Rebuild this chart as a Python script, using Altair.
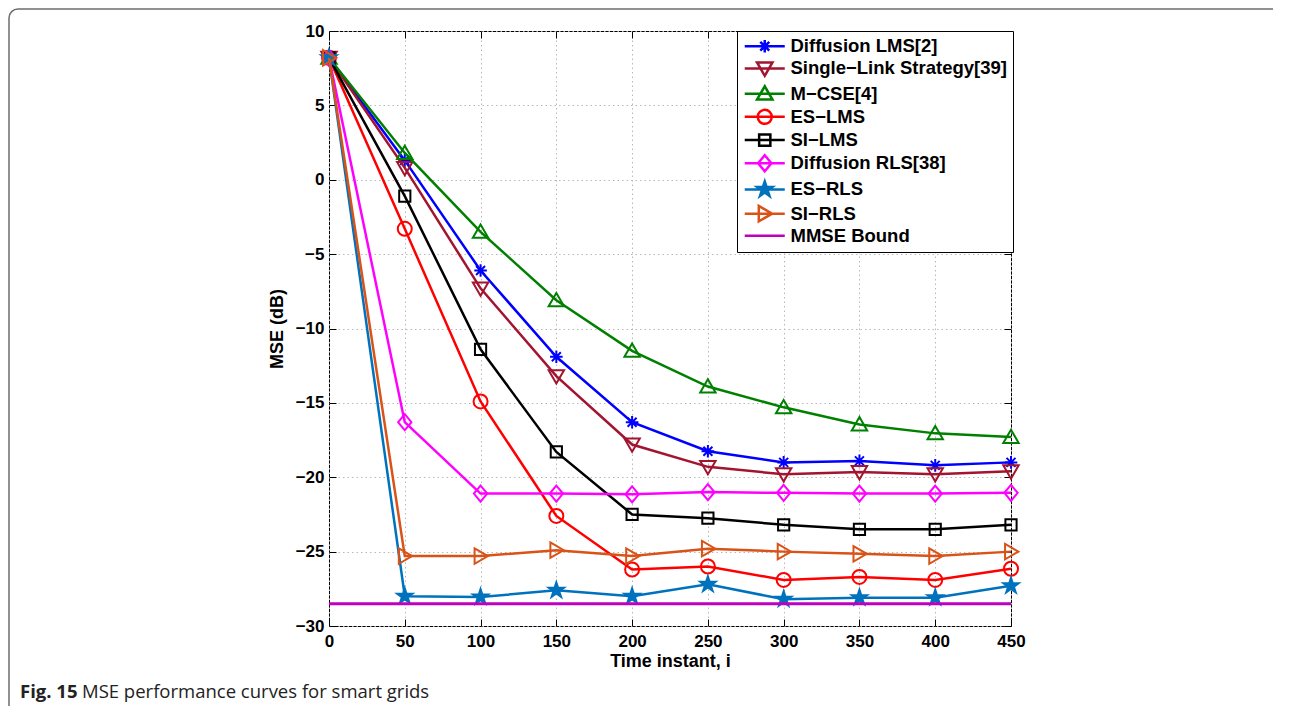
import altair as alt
import pandas as pd

# ---------------- data ----------------
t = [0, 50, 100, 150, 200, 250, 300, 350, 400, 450]
diffusion_lms = [8.2, 1.3, -6.1, -11.9, -16.3, -18.25, -19.0, -18.9, -19.2, -19.0]
single_link = [8.2, 0.8, -7.3, -13.2, -17.8, -19.3, -19.8, -19.65, -19.8, -19.6]
m_cse = [8.2, 1.8, -3.5, -8.1, -11.5, -13.9, -15.3, -16.45, -17.05, -17.3]
es_lms = [8.2, -3.3, -14.9, -22.6, -26.2, -26.0, -26.9, -26.7, -26.9, -26.15]
si_lms = [8.2, -1.1, -11.4, -18.3, -22.5, -22.75, -23.2, -23.5, -23.5, -23.2]
diffusion_rls = [8.2, -16.3, -21.1, -21.1, -21.15, -21.0, -21.05, -21.1, -21.1, -21.05]
es_rls = [8.2, -28.0, -28.05, -27.6, -28.0, -27.2, -28.2, -28.1, -28.1, -27.3]
si_rls = [8.2, -25.3, -25.3, -24.9, -25.3, -24.8, -25.0, -25.15, -25.3, -25.0]
mmse_t = [0, 450]
mmse_bound = [-28.5, -28.5]

series_names = [
    "Diffusion LMS[2]",
    "Single\u2212Link Strategy[39]",
    "M\u2212CSE[4]",
    "ES\u2212LMS",
    "SI\u2212LMS",
    "Diffusion RLS[38]",
    "ES\u2212RLS",
    "SI\u2212RLS",
    "MMSE Bound",
]
series_values = [diffusion_lms, single_link, m_cse, es_lms, si_lms,
                 diffusion_rls, es_rls, si_rls]

x_ticks = [0, 50, 100, 150, 200, 250, 300, 350, 400, 450]
y_ticks = [-30, -25, -20, -15, -10, -5, 0, 5, 10]

caption_bold = "Fig. 15"
caption_rest = "MSE performance curves for smart grids"

# ---------------- styles ----------------
colors = ["#0000FF", "#A2142F", "#008000", "#FF0000", "#000000",
          "#FF00FF", "#0072BD", "#D95319", "#BF00BF"]


def star_path(k):
    outer = [(0, -1.15), (1.09, -0.36), (0.68, 0.93), (-0.68, 0.93), (-1.09, -0.36)]
    inner = [(0.26, -0.36), (0.42, 0.14), (0, 0.44), (-0.42, 0.14), (-0.26, -0.36)]
    pts = []
    for o, i in zip(outer, inner):
        pts += [o, i]
    s = "M" + "L".join(f"{x * k:.3f},{y * k:.3f}" for x, y in pts) + "Z"
    return s


star = star_path(1.0) + " " + star_path(0.62) + " " + star_path(0.3)
marker_paths = [
    "M0,-0.9V0.9M-0.9,0H0.9M-0.64,-0.64L0.64,0.64M-0.64,0.64L0.64,-0.64",  # asterisk
    "M-1.1,-0.85L1.1,-0.85L0,1.05Z",                                       # triangle down
    "M-1.1,0.85L1.1,0.85L0,-1.05Z",                                        # triangle up
    "M1,0A1,1,0,1,1,-1,0A1,1,0,1,1,1,0Z",                                  # circle
    "M-0.8,-0.8H0.8V0.8H-0.8Z",                                            # square
    "M0,-1.15L0.95,0L0,1.15L-0.95,0Z",                                     # diamond
    star,                                                                  # pentagram
    "M-0.85,-1.1L1.05,0L-0.85,1.1Z",                                       # triangle right
    "",                                                                    # none
]
legend_line = "M-2.86,0H2.86"
legend_paths = [legend_line + (" " + p if p else "") for p in marker_paths]

rows = []
for name, vals in zip(series_names[:8], series_values):
    for ti, v in zip(t, vals):
        rows.append({"t": ti, "mse": v, "series": name})
for ti, v in zip(mmse_t, mmse_bound):
    rows.append({"t": ti, "mse": v, "series": series_names[8]})
df = pd.DataFrame(rows)

FONT = "Liberation Sans"
xs = alt.Scale(domain=[0, 450], nice=False, zero=False)
ys = alt.Scale(domain=[-30, 10], nice=False, zero=False)


def ex(axis):
    return alt.X("t:Q", scale=xs, axis=axis)


def ey(axis):
    return alt.Y("mse:Q", scale=ys, axis=axis)


grid_common = dict(grid=True, gridColor="#b8b8b8", gridDash=[1.5, 3], gridWidth=1,
                   domain=False, ticks=False, labelFont=FONT, labelFontWeight="bold",
                   labelColor="black", labelFlush=False, titleFont=FONT,
                   titleFontWeight="bold", titleColor="black", titleFontSize=18,
                   labelFontSize=17)

main_x_axis = alt.Axis(orient="bottom", values=x_ticks, title="Time instant, i",
                       labelPadding=7, titlePadding=3, **grid_common)
main_y_axis = alt.Axis(orient="left", values=y_ticks, title="MSE (dB)",
                       labelPadding=5, titlePadding=9, **grid_common)


def tick_axis(orient, values):
    return alt.Axis(orient=orient, values=values, labels=False, domain=False,
                    grid=False, ticks=True, tickSize=7, tickColor="black",
                    tickWidth=1, offset=-7, title=None)


layers = []

# figure frame (rounded box around the figure)
frame = alt.Chart(pd.DataFrame({"k": [0]})).mark_rect(
    filled=False, color="#6e6e6e", strokeWidth=1.5, cornerRadius=9
).encode(x=alt.value(-320), x2=alt.value(2000), y=alt.value(-22), y2=alt.value(1000))
layers.append(frame)

# axes carriers (invisible)
axes_main = alt.Chart(df).mark_point(opacity=0).encode(x=ex(main_x_axis), y=ey(main_y_axis))
axes_in1 = alt.Chart(df).mark_point(opacity=0).encode(
    x=ex(tick_axis("bottom", x_ticks)), y=ey(tick_axis("left", y_ticks)))
axes_in2 = alt.Chart(df).mark_point(opacity=0).encode(
    x=ex(tick_axis("top", x_ticks)), y=ey(tick_axis("right", y_ticks)))
layers += [axes_main, axes_in1, axes_in2]

for i, name in enumerate(series_names):
    base = alt.Chart(df).transform_filter(alt.datum.series == name)
    lw = 3 if i == 8 else 2.5
    layers.append(base.mark_line(color=colors[i], strokeWidth=lw).encode(x=ex(None), y=ey(None)))
    if marker_paths[i]:
        layers.append(base.mark_point(shape=marker_paths[i], filled=False, size=196,
                                      strokeWidth=2, color=colors[i], opacity=1)
                      .encode(x=ex(None), y=ey(None)))

leg = alt.Legend(title=None, orient="none", legendX=408, legendY=0)
legend_layer = alt.Chart(df).transform_filter("datum.t < -1000").mark_point(
    filled=False, size=196, strokeWidth=2.5, opacity=1
).encode(
    x=ex(None), y=ey(None),
    color=alt.Color("series:N", scale=alt.Scale(domain=series_names, range=colors), legend=leg),
    shape=alt.Shape("series:N", scale=alt.Scale(domain=series_names, range=legend_paths), legend=leg),
)
layers.append(legend_layer)

cap1 = alt.Chart(pd.DataFrame({"label": [caption_bold]})).mark_text(
    font="Open Sans", fontSize=18.5, fontWeight="bold", align="left", baseline="alphabetic",
    color="#222222"
).encode(x=alt.value(-309), y=alt.value(667), text="label:N")
cap2 = alt.Chart(pd.DataFrame({"label": [caption_rest]})).mark_text(
    font="Open Sans", fontSize=18.5, align="left", baseline="alphabetic", color="#222222"
).encode(x=alt.value(-247), y=alt.value(667), text="label:N")
layers += [cap1, cap2]

chart = alt.layer(*layers).properties(
    width=682, height=595,
    autosize=alt.AutoSizeParams(type="none"),
    padding={"left": 321, "top": 23, "right": 262, "bottom": 80},
).resolve_axis(
    x="independent", y="independent"
).configure_view(
    stroke="black", strokeWidth=1
).configure_legend(
    strokeColor="black", fillColor="white", padding=6, cornerRadius=0,
    labelFont=FONT, labelFontWeight="bold", labelFontSize=18.5, labelColor="black",
    labelLimit=400, symbolSize=196, symbolStrokeWidth=2.5, symbolOffset=12.5,
    labelOffset=16.5, rowPadding=-0.8, symbolLimit=0
)

chart.save("out.html", embed_options={"renderer": "svg", "actions": False})
